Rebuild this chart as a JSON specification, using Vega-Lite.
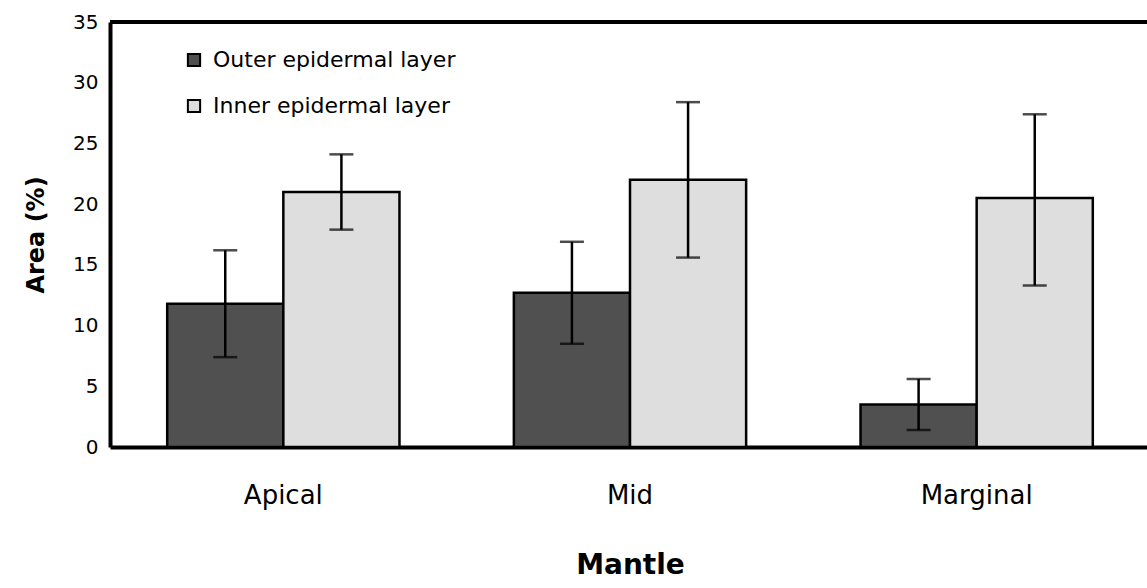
{
  "$schema": "https://vega.github.io/schema/vega-lite/v6.json",
  "autosize": "none",
  "width": 1040,
  "height": 425,
  "padding": {"left": 110, "top": 22, "right": 0, "bottom": 141},
  "background": "white",
  "config": {
    "view": {"stroke": null},
    "font": "DejaVu Sans"
  },
  "data": {
    "values": [
      {"Mantle": "Apical", "Layer": "Outer epidermal layer", "mean": 11.8, "lo": 7.4, "hi": 16.2},
      {"Mantle": "Apical", "Layer": "Inner epidermal layer", "mean": 21.0, "lo": 17.9, "hi": 24.1},
      {"Mantle": "Mid", "Layer": "Outer epidermal layer", "mean": 12.7, "lo": 8.5, "hi": 16.9},
      {"Mantle": "Mid", "Layer": "Inner epidermal layer", "mean": 22.0, "lo": 15.6, "hi": 28.4},
      {"Mantle": "Marginal", "Layer": "Outer epidermal layer", "mean": 3.5, "lo": 1.4, "hi": 5.6},
      {"Mantle": "Marginal", "Layer": "Inner epidermal layer", "mean": 20.5, "lo": 13.3, "hi": 27.4}
    ]
  },
  "encoding": {
    "x": {
      "field": "Mantle",
      "type": "nominal",
      "sort": ["Apical", "Mid", "Marginal"],
      "scale": {"paddingInner": 0.33, "paddingOuter": 0.165},
      "axis": {
        "title": "Mantle",
        "titleFontSize": 28,
        "titleFontWeight": "bold",
        "titleColor": "black",
        "titlePadding": 43,
        "labelAngle": 0,
        "labelFontSize": 26,
        "labelColor": "black",
        "labelPadding": 35,
        "ticks": false,
        "domainColor": "black",
        "domainWidth": 4
      }
    },
    "xOffset": {
      "field": "Layer",
      "type": "nominal",
      "sort": ["Outer epidermal layer", "Inner epidermal layer"],
      "scale": {"paddingInner": 0, "paddingOuter": 0}
    }
  },
  "layer": [
    {
      "mark": {"type": "bar", "stroke": "black", "strokeWidth": 2.5},
      "encoding": {
        "y": {
          "field": "mean",
          "type": "quantitative",
          "scale": {"domain": [0, 35]},
          "axis": {
            "title": "Area (%)",
            "titleFontSize": 24,
            "titleFontWeight": "bold",
            "titleColor": "black",
            "titlePadding": 24,
            "values": [0, 5, 10, 15, 20, 25, 30, 35],
            "labelFontSize": 20,
            "labelColor": "black",
            "labelPadding": 12,
            "grid": false,
            "tickSize": 0,
            "domainColor": "black",
            "domainWidth": 4
          }
        },
        "fill": {
          "field": "Layer",
          "type": "nominal",
          "sort": ["Outer epidermal layer", "Inner epidermal layer"],
          "scale": {"range": ["#505050", "#dedede"]},
          "legend": {
            "title": null,
            "orient": "none",
            "legendX": 73,
            "legendY": 27,
            "symbolType": "square",
            "symbolSize": 150,
            "symbolStrokeColor": "black",
            "symbolStrokeWidth": 2,
            "labelFontSize": 22,
            "labelColor": "black",
            "labelOffset": 8,
            "labelLimit": 0,
            "rowPadding": 24
          }
        }
      }
    },
    {
      "mark": {"type": "rule", "color": "black", "strokeWidth": 2.5},
      "encoding": {
        "y": {"field": "lo", "type": "quantitative"},
        "y2": {"field": "hi"}
      }
    },
    {
      "mark": {"type": "tick", "color": "black", "thickness": 2.5, "size": 24, "orient": "horizontal"},
      "encoding": {"y": {"field": "hi", "type": "quantitative"}}
    },
    {
      "mark": {"type": "tick", "color": "black", "thickness": 2.5, "size": 24, "orient": "horizontal"},
      "encoding": {"y": {"field": "lo", "type": "quantitative"}}
    },
    {
      "mark": {"type": "rule", "color": "black", "strokeWidth": 4},
      "encoding": {"y": {"datum": 35}, "x": {"value": 0}, "x2": {"value": 1040}, "xOffset": null}
    }
  ]
}
